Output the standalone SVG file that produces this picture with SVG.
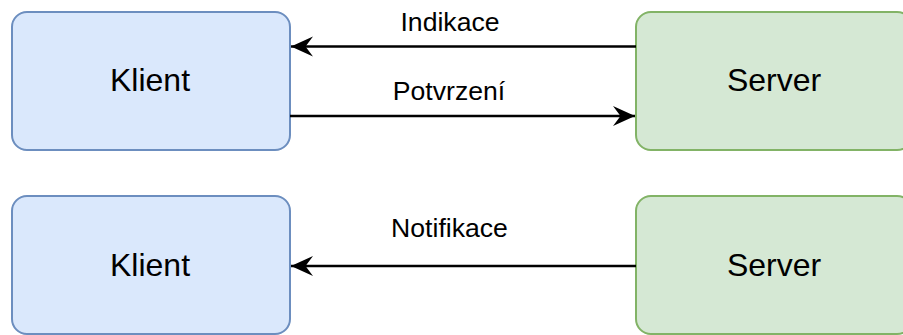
<svg xmlns="http://www.w3.org/2000/svg" width="903" height="335" viewBox="0 0 903 335">
  <style>
    .client rect { fill: #dae8fc; stroke: #6c8ebf; stroke-width: 2; }
    .server rect { fill: #d5e8d4; stroke: #82b366; stroke-width: 2; }
    .node text { font-family: "Liberation Sans", Arial, sans-serif; font-size: 32px; fill: #000; text-anchor: middle; }
    .lbl { font-family: "Liberation Sans", Arial, sans-serif; font-size: 26.6px; fill: #000; text-anchor: middle; }
    .edge { stroke: #000; stroke-width: 2.6; fill: none; }
  </style>
  <defs>
    <marker id="arr" viewBox="0 0 23 22" refX="22" refY="11" markerWidth="23" markerHeight="22" markerUnits="userSpaceOnUse" orient="auto">
      <path d="M22,11 L0,1 L7.5,11 L0,21 Z" fill="#000"/>
    </marker>
  </defs>
  <g id="klient1" class="node client">
    <rect x="12" y="12" width="278" height="138" rx="15" ry="15"/>
    <text x="150" y="90.7">Klient</text>
  </g>
  <g id="server1" class="node server">
    <rect x="636" y="12" width="276" height="138" rx="15" ry="15"/>
    <text x="774" y="90.7">Server</text>
  </g>
  <g id="klient2" class="node client">
    <rect x="12" y="196" width="278" height="138" rx="15" ry="15"/>
    <text x="150" y="275.7">Klient</text>
  </g>
  <g id="server2" class="node server">
    <rect x="636" y="196" width="276" height="138" rx="15" ry="15"/>
    <text x="774" y="275.7">Server</text>
  </g>
  <g id="connectors">
    <line class="edge" x1="636" y1="46.5" x2="291" y2="46.5" marker-end="url(#arr)"/>
    <text class="lbl" x="450" y="31">Indikace</text>
    <line class="edge" x1="290" y1="116" x2="635" y2="116" marker-end="url(#arr)"/>
    <text class="lbl" x="449" y="100">Potvrzení</text>
    <line class="edge" x1="636" y1="266" x2="291" y2="266" marker-end="url(#arr)"/>
    <text class="lbl" x="449.5" y="236.7">Notifikace</text>
  </g>
</svg>
